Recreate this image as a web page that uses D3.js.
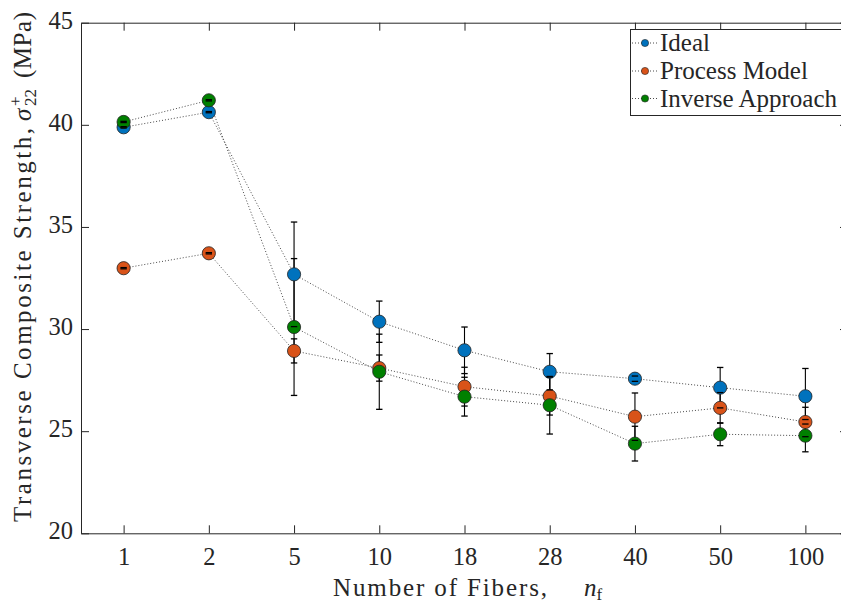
<!DOCTYPE html>
<html>
<head>
<meta charset="utf-8">
<script src="https://cdn.jsdelivr.net/npm/d3@7"></script>
<style>
  html, body { margin: 0; padding: 0; background: #fff; }
  svg { display: block; }
  text { font-family: "Liberation Serif", "Times New Roman", serif; fill: #262626; }
</style>
</head>
<body>
<svg id="chart" width="841" height="603"></svg>
<script>
// ---- data ----
const categories = ["1", "2", "5", "10", "18", "28", "40", "50", "100"];
const idealValues   = [39.88, 40.62, 32.68, 30.36, 28.96, 27.91, 27.57, 27.13, 26.71];
const idealErrors   = [0.03, 0.03, 2.56, 1.01, 1.14, 0.89, 0.13, 0.99, 1.36];
const processValues = [32.98, 33.71, 28.93, 28.09, 27.18, 26.72, 25.71, 26.14, 25.45];
const processErrors = [0.03, 0.03, 0.59, 0.64, 0.95, 0.93, 1.16, 0.75, 0.72];
const inverseValues = [40.14, 41.20, 30.10, 27.91, 26.69, 26.27, 24.39, 24.85, 24.78];
const inverseErrors = [0.03, 0.03, 3.35, 1.84, 0.95, 1.41, 0.85, 0.56, 0.79];
const seriesNames = ["Ideal", "Process Model", "Inverse Approach"];
const seriesColors = ["#0072BD", "#D95319", "#008000"];
const yTicks = [20, 25, 30, 35, 40, 45];

(function () {
const series = [
  { name: seriesNames[0], color: seriesColors[0], values: idealValues, errors: idealErrors },
  { name: seriesNames[1], color: seriesColors[1], values: processValues, errors: processErrors },
  { name: seriesNames[2], color: seriesColors[2], values: inverseValues, errors: inverseErrors }
];

// ---- layout ----
const svg = d3.select("#chart");
const pL = 81, pR = 848, pT = 22.7, pB = 533.3;
const axisColor = "#262626";

const x = d3.scaleLinear().domain([0.5, categories.length + 0.5]).range([pL, pR]);
const y = d3.scaleLinear().domain([20, 45]).range([pB, pT]);
const xi = i => x(i + 1);

const tickLen = 8;
const xAxisB = d3.axisBottom(x).tickValues(d3.range(1, categories.length + 1))
  .tickFormat(d => categories[d - 1]).tickSizeInner(-tickLen).tickSizeOuter(0).tickPadding(14);
const xAxisT = d3.axisTop(x).tickValues(d3.range(1, categories.length + 1))
  .tickFormat("").tickSizeInner(-tickLen).tickSizeOuter(0);
const yAxisL = d3.axisLeft(y).tickValues(yTicks).tickSizeInner(-tickLen).tickSizeOuter(0).tickPadding(8);
const yAxisR = d3.axisRight(y).tickValues(yTicks).tickFormat("").tickSizeInner(-tickLen).tickSizeOuter(0);

function styleAxis(g) {
  g.select(".domain").attr("stroke", axisColor).attr("stroke-width", 1);
  g.selectAll(".tick line").attr("stroke", axisColor).attr("stroke-width", 1);
  g.selectAll(".tick text").attr("fill", axisColor)
    .style("font-family", '"Liberation Serif", serif').style("font-size", "24.5px");
}

const gB = svg.append("g").attr("transform", `translate(0,${pB})`).call(xAxisB).call(styleAxis);
gB.selectAll(".tick text").attr("dy", "0.71em");
svg.append("g").attr("transform", `translate(0,${pT})`).call(xAxisT).call(styleAxis);
const gL = svg.append("g").attr("transform", `translate(${pL},0)`).call(yAxisL).call(styleAxis);
gL.selectAll(".tick text").attr("dy", "0.22em");
svg.append("g").attr("transform", `translate(${pR},0)`).call(yAxisR).call(styleAxis);

// ---- data marks ----
const lineGen = d3.line().x((d, i) => xi(i)).y(d => y(d));
const plot = svg.append("g");

series.forEach(s => {
  plot.append("path").datum(s.values).attr("d", lineGen)
    .attr("fill", "none").attr("stroke", "#4a4a4a").attr("stroke-width", 1)
    .attr("stroke-dasharray", "1,2");
});

series.forEach(s => {
  plot.append("g").selectAll("line").data(s.values).join("line")
    .attr("x1", (d, i) => xi(i)).attr("x2", (d, i) => xi(i))
    .attr("y1", (d, i) => y(d + s.errors[i])).attr("y2", (d, i) => y(d - s.errors[i]))
    .attr("stroke", "#000").attr("stroke-width", 1.1);
});

series.forEach(s => {
  plot.append("g").selectAll("circle").data(s.values).join("circle")
    .attr("cx", (d, i) => xi(i)).attr("cy", d => y(d)).attr("r", 6.6)
    .attr("fill", s.color).attr("stroke", "#222").attr("stroke-width", 0.8);
});

const capW = 3.2;
series.forEach(s => {
  const g = plot.append("g");
  [1, -1].forEach(sign => {
    g.append("g").selectAll("line").data(s.values).join("line")
      .attr("x1", (d, i) => xi(i) - capW).attr("x2", (d, i) => xi(i) + capW)
      .attr("y1", (d, i) => y(d + sign * s.errors[i])).attr("y2", (d, i) => y(d + sign * s.errors[i]))
      .attr("stroke", "#000").attr("stroke-width", 1.3);
  });
});

// ---- legend ----
const lg = svg.append("g");
lg.append("rect").attr("x", 630.5).attr("y", 29.5).attr("width", 240).attr("height", 86)
  .attr("fill", "#fff").attr("stroke", axisColor).attr("stroke-width", 1);
const legendBase = [51, 79, 106.5];
series.forEach((s, k) => {
  const cy = legendBase[k] - 8;
  lg.append("line").attr("x1", 632).attr("x2", 658).attr("y1", cy).attr("y2", cy)
    .attr("stroke", "#4a4a4a").attr("stroke-width", 1).attr("stroke-dasharray", "1,2");
  lg.append("circle").attr("cx", 645).attr("cy", cy).attr("r", 3.6)
    .attr("fill", s.color).attr("stroke", "#222").attr("stroke-width", 0.6);
  lg.append("text").attr("x", 660).attr("y", legendBase[k]).style("font-size", "25px").text(s.name);
});

// ---- axis labels ----
svg.append("text").attr("x", 333).attr("y", 596).style("font-size", "25px")
  .attr("textLength", 214).attr("lengthAdjust", "spacing").text("Number of Fibers,");
const xn = svg.append("text").attr("x", 584).attr("y", 596).style("font-size", "25px");
xn.append("tspan").attr("font-style", "italic").text("n");
xn.append("tspan").attr("dy", 4).style("font-size", "17px").text("f");

const yg = svg.append("g").attr("transform", "translate(31,0) rotate(-90)");
yg.append("text").attr("x", -522).attr("y", 0).style("font-size", "25px")
  .attr("textLength", 394).attr("lengthAdjust", "spacing").text("Transverse Composite Strength,");
yg.append("text").attr("x", -121).attr("y", 0).style("font-size", "25px")
  .attr("font-style", "italic").text("σ");
yg.append("text").attr("x", -106).attr("y", -10).style("font-size", "17px").text("+");
yg.append("text").attr("x", -106).attr("y", 5).style("font-size", "17px").text("22");
yg.append("text").attr("x", -78).attr("y", 0).style("font-size", "25px")
  .attr("textLength", 66).attr("lengthAdjust", "spacing").text("(MPa)");
})();
</script>
</body>
</html>
